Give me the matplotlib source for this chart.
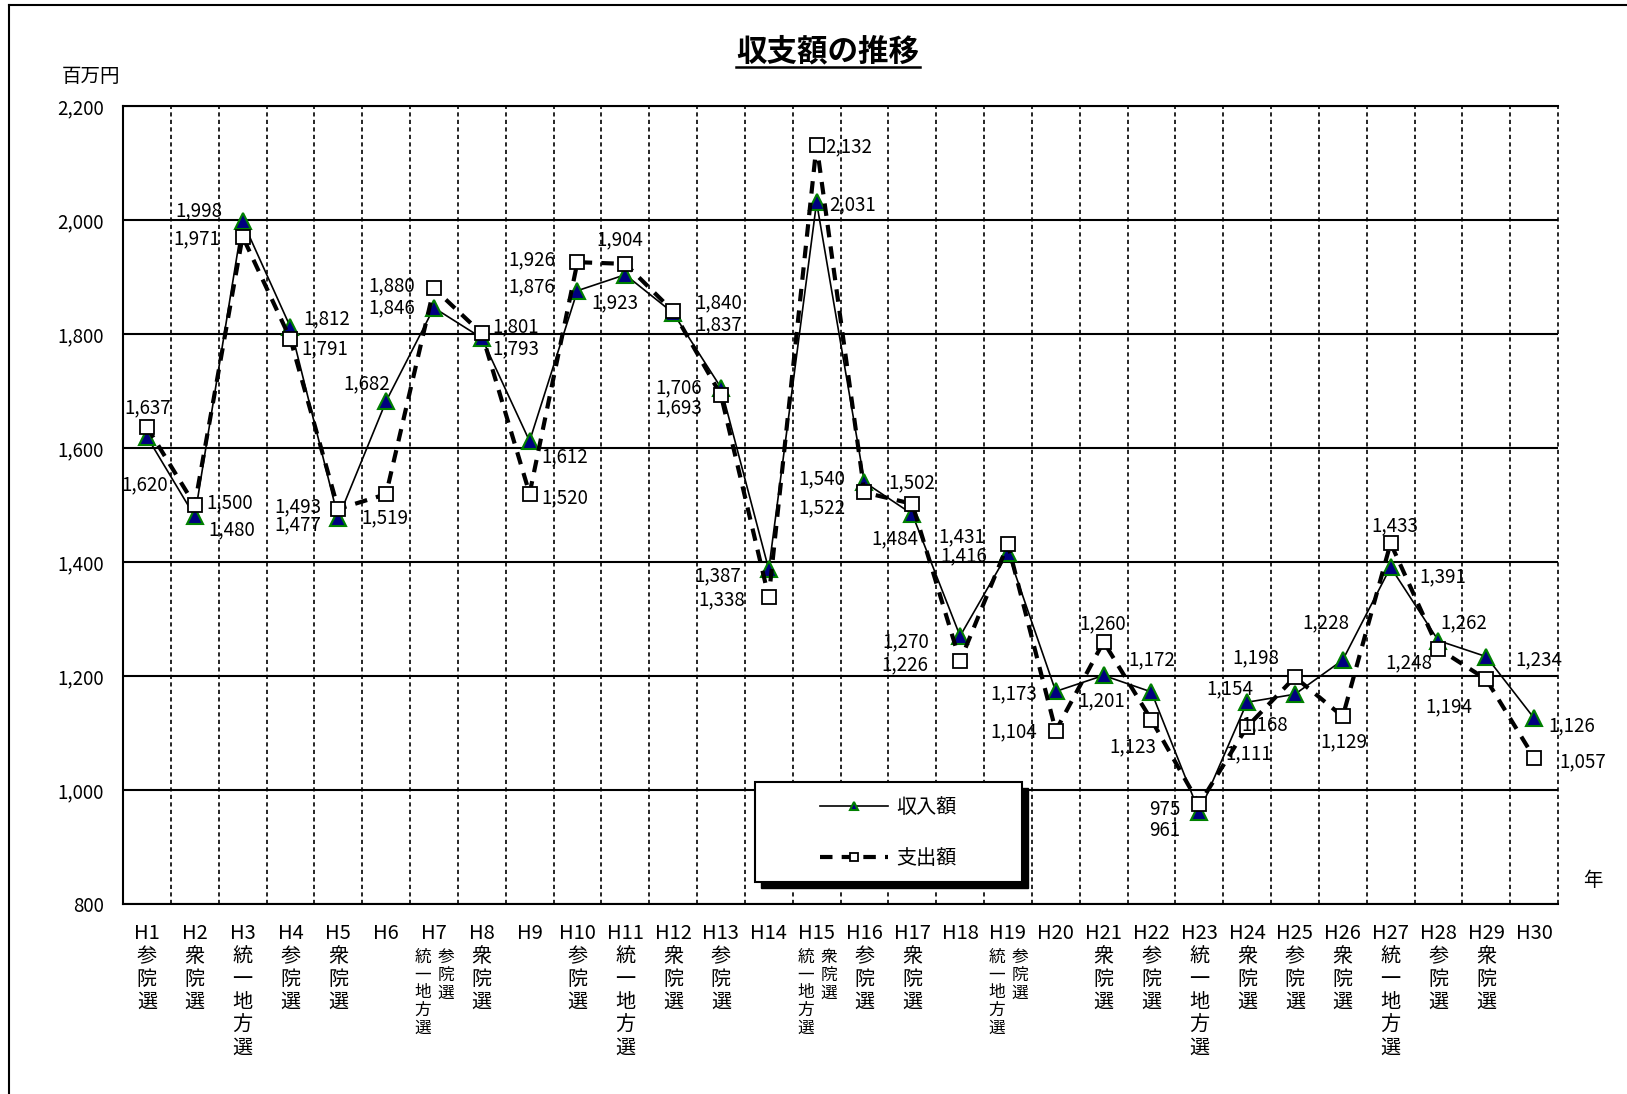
import numpy as np
import matplotlib
matplotlib.use('Agg')
import matplotlib.pyplot as plt
import matplotlib.ticker as ticker
from matplotlib.patches import Rectangle
from matplotlib.lines import Line2D

plt.rcParams['font.family'] = ['Noto Sans CJK JP', 'DejaVu Sans']

# data (百万円)
years = ['H%d' % i for i in range(1, 31)]
elections = [['参院選'], ['衆院選'], ['統一地方選'], ['参院選'], ['衆院選'], [],
             ['統一地方選', '参院選'], ['衆院選'], [], ['参院選'], ['統一地方選'], ['衆院選'],
             ['参院選'], [], ['統一地方選', '衆院選'], ['参院選'], ['衆院選'], [],
             ['統一地方選', '参院選'], [], ['衆院選'], ['参院選'], ['統一地方選'], ['衆院選'],
             ['参院選'], ['衆院選'], ['統一地方選'], ['参院選'], ['衆院選'], []]
income = [1620, 1480, 1998, 1812, 1477, 1682, 1846, 1793, 1612, 1876,
          1904, 1837, 1706, 1387, 2031, 1540, 1484, 1270, 1416, 1173,
          1201, 1172, 961, 1154, 1168, 1228, 1391, 1262, 1234, 1126]
expense = [1637, 1500, 1971, 1791, 1493, 1519, 1880, 1801, 1520, 1926,
           1923, 1840, 1693, 1338, 2132, 1522, 1502, 1226, 1431, 1104,
           1260, 1123, 975, 1111, 1198, 1129, 1433, 1248, 1194, 1057]

# label offsets in pixels (dx, dy up), alignment
inc_off = [(-2, -48, 'center'), (14, -13, 'left'), (-20, 10, 'right'), (13, 8, 'left'),
           (-17, -7, 'right'), (4, 17, 'right'), (-19, 0, 'right'), (11, -11, 'left'),
           (12, -16, 'left'), (-22, 4, 'right'), (-5, 35, 'center'), (22, -12, 'left'),
           (-19, 0, 'right'), (-28, -6, 'right'), (13, -2, 'left'), (-19, 3, 'right'),
           (6, -25, 'right'), (-31, -6, 'right'), (-21, -3, 'right'), (-19, -2, 'right'),
           (-2, -25, 'center'), (0, 32, 'center'), (-19, -18, 'right'), (-17, 13, 'center'),
           (-30, -31, 'center'), (-17, 37, 'center'), (29, -10, 'left'), (2, 18, 'left'),
           (29, -3, 'left'), (14, -8, 'left')]
exp_off = [(1, 19, 'center'), (12, 2, 'left'), (-22, -2, 'right'), (11, -10, 'left'),
           (-17, 2, 'right'), (-1, -24, 'center'), (-19, 3, 'right'), (11, 7, 'left'),
           (12, -4, 'left'), (-22, 2, 'right'), (-10, -39, 'center'), (22, 8, 'left'),
           (-19, -13, 'right'), (-24, -2, 'right'), (9, -2, 'left'), (-19, -15, 'right'),
           (0, 21, 'center'), (-32, -4, 'right'), (-23, 8, 'right'), (-19, -1, 'right'),
           (-1, 18, 'center'), (-19, -27, 'center'), (-19, -5, 'right'), (2, -27, 'center'),
           (-39, 19, 'center'), (1, -25, 'center'), (4, 17, 'center'), (-6, -14, 'right'),
           (-14, -27, 'right'), (25, -4, 'left')]

W, H = 1627, 1094
fig = plt.figure(figsize=(W / 100, H / 100), dpi=100)

def fx(px):
    return px / W

def fy(py):
    return 1 - py / H

ax = fig.add_axes([fx(123), fy(904), fx(1558) - fx(123), fy(106) - fy(904)])
x = np.arange(len(years))
ax.set_xlim(-0.5, len(years) - 0.5)
ax.set_ylim(800, 2200)
ax.set_yticks(np.arange(800, 2201, 200))
ax.yaxis.set_major_formatter(ticker.FuncFormatter(lambda v, p: f'{v:,.0f}'))
ax.grid(axis='y', color='black', lw=1.5)
ax.set_axisbelow(True)
for b in np.arange(0.5, len(years), 1):
    ax.axvline(b, color='black', lw=1.2, ls=(0, (2.5, 2)), clip_on=False, zorder=1)
ax.spines['right'].set_visible(False)
for s in ['left', 'top', 'bottom']:
    ax.spines[s].set_linewidth(1.5)

# x tick labels: year + vertical election name
ticklabels = []
for yr, e in zip(years, elections):
    if len(e) == 1:
        ticklabels.append(yr + '\n' + '\n'.join(e[0]))
    else:
        ticklabels.append(yr)
ax.set_xticks(x, ticklabels, fontsize=14.5, linespacing=1.12, va='top')
ax.tick_params(axis='x', length=0, pad=14)
ax.tick_params(axis='y', length=0, pad=14, labelsize=13.5)

# two-column labels (small)
for i, e in enumerate(elections):
    if len(e) == 2:
        for k, name in enumerate(e):
            ax.annotate('\n'.join(name), (x[i], 0), xycoords=('data', 'axes fraction'),
                        xytext=(-11 if k == 0 else 12, -45), textcoords='offset pixels',
                        ha='center', va='top', fontsize=12, linespacing=1.05)

ax.plot(x, income, color='black', lw=1.2, marker='^', ms=11, mfc='#000080',
        mec='#008000', mew=1.5, label='収入額', zorder=3)
ax.plot(x, expense, color='black', lw=3, ls=(0, (3, 2.2)), marker='s', ms=10.5,
        mfc='white', mec='black', mew=1.3, label='支出額', zorder=4)

for i, v in enumerate(income):
    dx, dy, ha = inc_off[i]
    ax.annotate(f'{v:,}', (x[i], v), xytext=(dx, dy), textcoords='offset pixels',
                ha=ha, va='center', fontsize=13.5, zorder=5)
for i, v in enumerate(expense):
    dx, dy, ha = exp_off[i]
    ax.annotate(f'{v:,}', (x[i], v), xytext=(dx, dy), textcoords='offset pixels',
                ha=ha, va='center', fontsize=13.5, zorder=5)

# legend box with shadow
shadow = Rectangle((fx(761), fy(888)), fx(1022) - fx(755), fy(782) - fy(882),
                   transform=fig.transFigure, fc='black', ec='black', zorder=5)
box = Rectangle((fx(755), fy(882)), fx(1022) - fx(755), fy(782) - fy(882),
                transform=fig.transFigure, fc='white', ec='black', lw=1.5, zorder=6)
fig.add_artist(shadow)
fig.add_artist(box)
h, l = ax.get_legend_handles_labels()
leg = fig.legend(h, l, loc='center', bbox_to_anchor=(fx(888), fy(833)), frameon=False,
                 fontsize=14.5, markerscale=0.5, handlelength=3.4, handletextpad=0.4,
                 labelspacing=1.45)
leg.set_zorder(7)

# texts
fig.text(fx(91), fy(76), '百万円', ha='center', va='center', fontsize=14)
fig.text(fx(1593), fy(880), '年', ha='center', va='center', fontsize=14)
t = fig.text(fx(828), fy(51), '収支額の推移', ha='center', va='center',
             fontsize=22, fontweight='bold')

# frame lines
fig.add_artist(Line2D([fx(9), fx(9)], [fy(5), 0], color='black', lw=1.5))
fig.add_artist(Line2D([fx(9), 1], [fy(5), fy(5)], color='black', lw=1.5))

fig.canvas.draw()
bb = t.get_window_extent()
fig.add_artist(Line2D([bb.x0 / W, bb.x1 / W], [fy(67), fy(67)], color='black', lw=1.8))

fig.savefig('out.png', dpi=100)
